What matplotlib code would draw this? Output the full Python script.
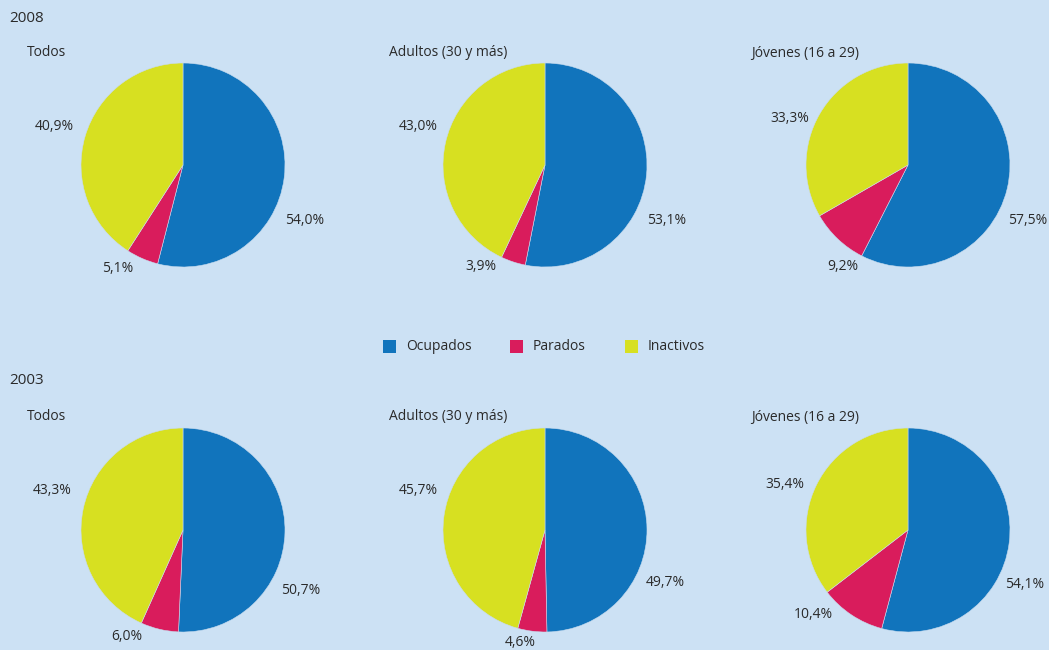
import matplotlib
matplotlib.use("Agg")
import matplotlib.pyplot as plt

# Data: share of population by labour status (%)
years = ["2008", "2003"]
groups = ["Todos", "Adultos (30 y más)", "Jóvenes (16 a 29)"]
categories = ["Ocupados", "Parados", "Inactivos"]

ocupados_2008 = [54.0, 53.1, 57.5]
parados_2008 = [5.1, 3.9, 9.2]
inactivos_2008 = [40.9, 43.0, 33.3]

ocupados_2003 = [50.7, 49.7, 54.1]
parados_2003 = [6.0, 4.6, 10.4]
inactivos_2003 = [43.3, 45.7, 35.4]

series = {
    "2008": [ocupados_2008, parados_2008, inactivos_2008],
    "2003": [ocupados_2003, parados_2003, inactivos_2003],
}

# Styling / layout
W, H = 1049, 650
BG = "#cce1f4"
COLORS = ["#1174bc", "#d91c5c", "#d7e021"]
TEXT = "#2a2a2a"
FONT = ["Open Sans", "DejaVu Sans"]
R = 102
col_x = [183, 545, 908]
row_y = {"2008": 165, "2003": 530}
year_y = {"2008": 18, "2003": 381}
title_y = {"2008": 53, "2003": 417}
title_x = [27, 389, 751]

# label offsets in pixels (dx, dy downward) for Ocupados, Parados, Inactivos
label_offsets = {
    "2008": [
        [(122, 56), (-65, 103), (-129, -38)],
        [(122, 55), (-64, 102), (-127, -39)],
        [(120, 56), (-65, 102), (-118, -46)],
    ],
    "2003": [
        [(118, 60), (-56, 107), (-131, -40)],
        [(120, 53), (-25, 113), (-127, -40)],
        [(117, 55), (-95, 85), (-123, -46)],
    ],
}

plt.rcParams["font.family"] = FONT

fig = plt.figure(figsize=(W / 100, H / 100), dpi=100, facecolor=BG)
ax = fig.add_axes([0, 0, 1, 1])
ax.set_facecolor(BG)


def fmt(v):
    return f"{v:.1f}%".replace(".", ",")


for year in years:
    ocu, par, ina = series[year]
    cy = row_y[year]
    ax.text(9, H - year_y[year], year, fontsize=11, color=TEXT,
            ha="left", va="center")
    for i, group in enumerate(groups):
        vals = [ocu[i], par[i], ina[i]]
        cx = col_x[i]
        ax.pie(vals, colors=COLORS, startangle=90, counterclock=False,
               center=(cx, H - cy), radius=R,
               wedgeprops=dict(edgecolor="#c8dcef", linewidth=0.4))
        ax.text(title_x[i], H - title_y[year], group, fontsize=10,
                color=TEXT, ha="left", va="center")
        for v, (dx, dy) in zip(vals, label_offsets[year][i]):
            ax.text(cx + dx, H - (cy + dy), fmt(v), fontsize=10,
                    color=TEXT, ha="center", va="center")

# Legend row
leg_x = [383, 510, 625]
leg_y = 346
for x, c, name in zip(leg_x, COLORS, categories):
    ax.add_patch(plt.Rectangle((x, H - leg_y - 6.5), 13, 13, color=c, lw=0))
    ax.text(x + 23, H - leg_y, name, fontsize=10, color=TEXT,
            ha="left", va="center")

ax.set_xlim(0, W)
ax.set_ylim(0, H)
ax.set_aspect("equal")
ax.axis("off")

fig.savefig("out.png", dpi=100, facecolor=BG)
